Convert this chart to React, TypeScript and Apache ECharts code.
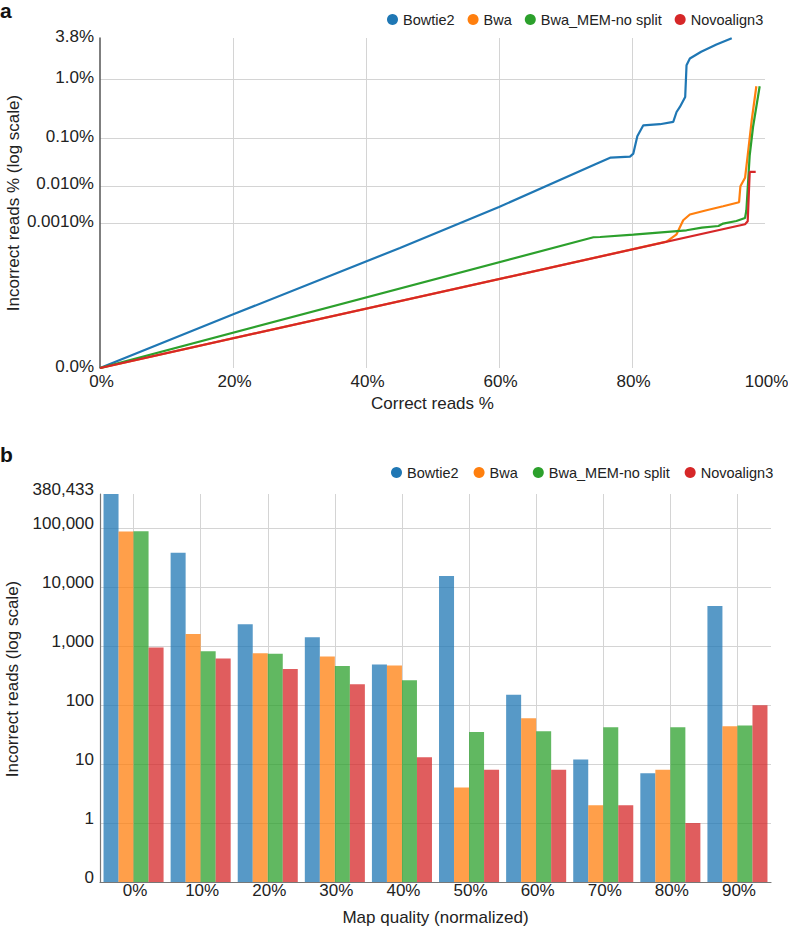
import React, { useEffect, useRef } from 'react';
import * as echarts from 'echarts';

const FONT = '"Liberation Sans", Arial, Helvetica, sans-serif';
const TEXT_COLOR = '#222';

const ALIGNERS = ['Bowtie2', 'Bwa', 'Bwa_MEM-no split', 'Novoalign3'];
const COLORS = ['#1f77b4', '#ff7f0e', '#2ca02c', '#d62728'];

// Panel a: [correct reads %, incorrect reads %]
const BOWTIE2_CURVE = [
  [0, 0], [19.95, 4.7e-8], [45.1, 1.54e-4], [60, 2.91e-3], [74.4, 0.0301],
  [76.8, 0.0422], [79.7, 0.0443], [80.2, 0.051], [80.8, 0.111], [81.7, 0.176],
  [84.2, 0.184], [86.2, 0.202], [86.7, 0.3], [87.2, 0.365], [88.0, 0.531],
  [88.2, 1.605], [88.7, 2.0], [90.4, 2.48], [92.7, 3.11], [95.0, 3.78],
];
const BWA_CURVE = [
  [0, 0], [85.2, 2.57e-4], [86.7, 4.54e-4], [87.7, 1.23e-3], [88.7, 1.8e-3],
  [91.2, 2.37e-3], [93.7, 3.04e-3], [96.1, 3.88e-3], [96.3, 9.75e-3],
  [97.0, 0.0154], [97.4, 0.0471], [98.0, 0.216], [98.7, 0.782],
];
const BWA_MEM_CURVE = [
  [0, 0], [74.2, 3.62e-4], [75.2, 3.7e-4], [80.2, 4.44e-4], [88.2, 6.09e-4],
  [90.5, 7.4e-4], [93.0, 8.28e-4], [93.7, 9.79e-4], [95.7, 1.17e-3],
  [97.0, 1.43e-3], [97.2, 2.37e-3], [97.7, 0.0471], [98.2, 0.164], [99.2, 0.782],
];
const NOVOALIGN_CURVE = [
  [0, 0], [97.0, 9.33e-4], [97.4, 1.15e-3], [97.7, 0.0208], [98.6, 0.0208],
];

const TOP_Y_TICKS = [0, 0.001, 0.01, 0.1, 1, 3.8];
const TOP_Y_LABELS = ['0.0%', '0.0010%', '0.010%', '0.10%', '1.0%', '3.8%'];
const TOP_X_TICKS = [0, 20, 40, 60, 80, 100];

// Panel b: incorrect reads per normalized map quality bin
const MAPQ_BINS = ['0%', '10%', '20%', '30%', '40%', '50%', '60%', '70%', '80%', '90%'];
const BOWTIE2_BARS = [380433, 38400, 2350, 1420, 490, 15400, 150, 12, 7, 4800];
const BWA_BARS = [88000, 1600, 760, 670, 470, 4, 60, 2, 8, 44];
const BWA_MEM_BARS = [88500, 820, 740, 460, 265, 35, 36, 42, 42, 45];
const NOVOALIGN_BARS = [950, 620, 410, 225, 13, 8, 8, 2, 1, 99];

const BOTTOM_Y_TICKS = [0, 1, 10, 100, 1000, 10000, 100000, 380433];
const BOTTOM_Y_LABELS = ['0', '1', '10', '100', '1,000', '10,000', '100,000', '380,433'];

// panel a axis is a power scale (x^0.1), panel b is log10 with 0 drawn one decade below 1
const powT = (v: number) => Math.pow(v, 0.1);
const logT = (v: number) => (v <= 0 ? 0 : Math.log10(v) + 1);

function nearestLabel(ticks: number[], labels: string[], v: number) {
  let best = 0;
  ticks.forEach((t, i) => {
    if (Math.abs(t - v) < Math.abs(ticks[best] - v)) best = i;
  });
  return labels[best];
}

const App: React.FC = () => {
  const chartRef = useRef<HTMLDivElement>(null);

  useEffect(() => {
    if (!chartRef.current) return;
    const chart = echarts.init(chartRef.current, null, { renderer: 'svg' });

    const topYTicksT = TOP_Y_TICKS.map(powT);
    const bottomYTicksT = BOTTOM_Y_TICKS.map(logT);
    const curves = [BOWTIE2_CURVE, BWA_CURVE, BWA_MEM_CURVE, NOVOALIGN_CURVE];
    const bars = [BOWTIE2_BARS, BWA_BARS, BWA_MEM_BARS, NOVOALIGN_BARS];

    const axisText = { fontFamily: FONT, fontSize: 17, color: TEXT_COLOR };
    const gridLine = { show: true, lineStyle: { color: '#d4d4d4', width: 1 } };

    const lineSeries: any[] = curves.map((curve, i) => ({
      name: ALIGNERS[i],
      type: 'line',
      xAxisIndex: 0,
      yAxisIndex: 0,
      showSymbol: false,
      symbol: 'none',
      color: COLORS[i],
      lineStyle: { width: 2.2, color: COLORS[i] },
      data: curve.map(([x, y]) => [x, powT(y)]),
    }));

    const barSeries: any[] = bars.map((vals, i) => ({
      name: ALIGNERS[i],
      type: 'bar',
      xAxisIndex: 1,
      yAxisIndex: 1,
      color: COLORS[i],
      itemStyle: { color: COLORS[i], opacity: 0.75 },
      barGap: '0%',
      barCategoryGap: '10.5%',
      data: vals.map(logT),
    }));

    const option: any = {
      animation: false,
      backgroundColor: '#fff',
      textStyle: { fontFamily: FONT },
      graphic: [
        { type: 'text', left: 0, top: 0, style: { text: 'a', font: `bold 21px ${FONT}`, fill: '#111' } },
        { type: 'text', left: 0, top: 444, style: { text: 'b', font: `bold 21px ${FONT}`, fill: '#111' } },
      ],
      legend: [
        {
          left: 382,
          top: 7,
          icon: 'circle',
          itemWidth: 11,
          itemHeight: 11,
          itemGap: 13,
          textStyle: { fontFamily: FONT, fontSize: 14.5, color: TEXT_COLOR },
          data: ALIGNERS,
        },
        {
          left: 386,
          top: 460,
          icon: 'circle',
          itemWidth: 11,
          itemHeight: 11,
          itemGap: 15,
          textStyle: { fontFamily: FONT, fontSize: 14.5, color: TEXT_COLOR },
          data: ALIGNERS.map((n) => ({ name: n, itemStyle: { opacity: 1 } })),
        },
      ],
      grid: [
        { left: 100, top: 38, width: 665, height: 330, outerBoundsMode: 'none', containLabel: false },
        { left: 100, top: 494, width: 671, height: 388, outerBoundsMode: 'none', containLabel: false },
      ],
      xAxis: [
        {
          gridIndex: 0,
          type: 'value',
          min: 0,
          max: 100,
          name: 'Correct reads %',
          nameLocation: 'middle',
          nameGap: 27,
          nameMoveOverlap: false,
          nameTextStyle: axisText,
          axisLine: { show: false },
          axisTick: { show: false, customValues: [20, 40, 60, 80] },
          axisLabel: {
            ...axisText,
            margin: 4.5,
            padding: [0, 0, 0, 3],
            customValues: TOP_X_TICKS,
            formatter: (v: number) => `${Math.round(v)}%`,
          },
          splitLine: gridLine,
        },
        {
          gridIndex: 1,
          type: 'category',
          data: MAPQ_BINS,
          name: 'Map quality (normalized)',
          nameLocation: 'middle',
          nameGap: 27,
          nameMoveOverlap: false,
          nameTextStyle: axisText,
          axisLine: { show: true, lineStyle: { color: '#777', width: 1.2 } },
          axisTick: { show: false },
          axisLabel: { ...axisText, margin: 0, padding: [0, 0, 0, 3] },
          splitLine: { show: false },
        },
        {
          // helper axis: vertical grid lines through the centre of every bin
          gridIndex: 1,
          type: 'value',
          min: -0.5,
          max: 9.5,
          show: true,
          axisLine: { show: false },
          axisLabel: { show: false },
          axisTick: { show: false, customValues: MAPQ_BINS.map((_, i) => i) },
          splitLine: gridLine,
        },
      ],
      yAxis: [
        {
          gridIndex: 0,
          type: 'value',
          min: 0,
          max: powT(3.8),
          name: 'Incorrect reads % (log scale)',
          nameLocation: 'middle',
          nameGap: 78,
          nameMoveOverlap: false,
          nameTextStyle: axisText,
          axisLine: { show: true, onZero: false, lineStyle: { color: '#555', width: 1.5 } },
          axisTick: { show: false, customValues: topYTicksT.slice(1, 5) },
          axisLabel: {
            ...axisText,
            margin: 6,
            verticalAlign: 'bottom',
            lineHeight: 4,
            customValues: topYTicksT,
            formatter: (v: number) => nearestLabel(topYTicksT, TOP_Y_LABELS, v),
          },
          splitLine: gridLine,
        },
        {
          gridIndex: 1,
          type: 'value',
          min: 0,
          max: logT(380433),
          name: 'Incorrect reads (log scale)',
          nameLocation: 'middle',
          nameGap: 79,
          nameMoveOverlap: false,
          nameTextStyle: { ...axisText, padding: [0, 0, 0, 18] },
          axisLine: { show: true, onZero: false, lineStyle: { color: '#777', width: 1.2 } },
          axisTick: { show: false, customValues: bottomYTicksT.slice(0, 7) },
          axisLabel: {
            ...axisText,
            margin: 6,
            verticalAlign: 'bottom',
            lineHeight: 10,
            customValues: bottomYTicksT,
            formatter: (v: number) => nearestLabel(bottomYTicksT, BOTTOM_Y_LABELS, v),
          },
          splitLine: gridLine,
        },
      ],
      series: [...lineSeries, ...barSeries],
    };

    chart.setOption(option);

    return () => {
      chart.dispose();
    };
  }, []);

  return (
    <div
      ref={chartRef}
      style={{ position: 'absolute', left: 0, top: 0, width: 788, height: 928 }}
    />
  );
};

export default App;
